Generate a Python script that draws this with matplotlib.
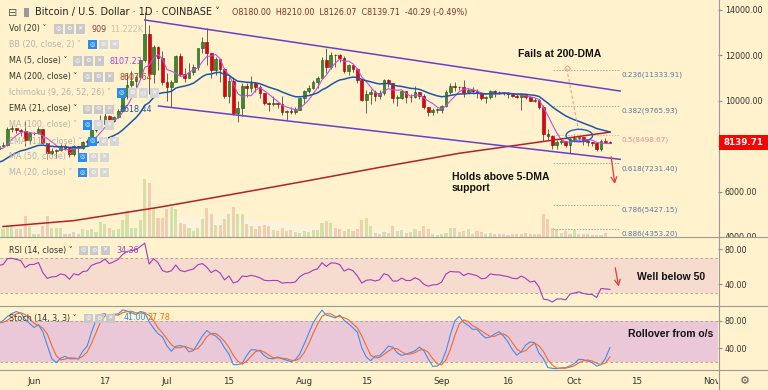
import matplotlib
matplotlib.use('Agg')
import matplotlib.pyplot as plt
import numpy as np
import pandas as pd
from matplotlib.patches import Rectangle, Ellipse
from matplotlib.lines import Line2D
from matplotlib.transforms import Bbox, TransformedBbox

# daily BTC/USD candles, 2019-05-05 .. 2019-10-09 (open = previous close)
first_open = 5830
closes = [5750, 5700, 5880, 5980, 6150, 6350, 7250, 6980, 7810, 7990, 8190, 7880, 7350, 7260, 8200, 7990, 7940, 7620, 7880, 7990, 8060, 8740, 8780, 8720, 8660, 8270, 8550,
          8560, 8740, 8120, 7680, 7790, 7810, 8000, 7930, 7630, 8010, 7920, 8170, 8230, 8690, 8860, 8980, 9330, 9080, 9270, 9530, 10180, 10700, 10860, 11020, 11770, 12930, 11160, 12370, 11880, 10810,
          10580, 10810, 11960, 11150, 10980, 11250, 11470, 12300, 12560, 12100, 11350, 11810, 11370, 10200, 10850, 9430, 9680, 10640, 10530, 10760, 10590, 10330, 9910, 9840, 9880, 9860, 9480, 9530, 9510, 9590, 10090,
          10410, 10530, 10820, 10980, 11800, 11470, 11990, 11980, 11860, 11290, 11550, 11390, 10880, 10030, 10300, 10360, 10220, 10320, 10920, 10760, 10130, 10130, 10400, 10140, 10140, 10370, 10180, 9710, 9490, 9590, 9600,
          9760, 10390, 10620, 10580, 10580, 10320, 10480, 10410, 10330, 10120, 10160, 10420, 10370, 10360, 10310, 10270, 10190, 10160, 10280, 10170, 9990, 10030, 9700, 8530, 8430, 8060, 8190, 8200, 8050, 8300,
          8340, 8390, 8240, 8160, 8150, 7860, 8210, 8180, 8139.71]
highs = [5840, 5770, 6000, 6000, 6180, 6430, 7450, 7580, 8100, 8330, 8290, 8380, 7940, 7490, 8280, 8200, 8100, 8040, 7960, 8180, 8160, 8850, 8930, 8810, 8730, 9080, 8570,
         8620, 8830, 8750, 8130, 7900, 7880, 8110, 8070, 7960, 8060, 8020, 8230, 8320, 8720, 8900, 9380, 9440, 9350, 9310, 9610, 10200, 11200, 11300, 11100, 11800, 13880, 13300, 12450, 12380, 12190,
         11220, 10900, 11990, 12090, 11440, 11650, 11600, 12330, 12800, 13200, 12100, 11900, 11840, 11450, 11080, 11020, 9970, 10760, 10760, 11090, 10830, 10680, 10340, 9920, 10180, 9880, 10200, 9580, 9720, 9720, 10100,
         10460, 10680, 10920, 11080, 11900, 12320, 12120, 12050, 12040, 11950, 11590, 11560, 11440, 10900, 10440, 10520, 10460, 10480, 10960, 10950, 10780, 10240, 10440, 10410, 10270, 10650, 10390, 10300, 9720, 9680, 9680,
         9800, 10450, 10790, 10800, 10650, 10920, 10560, 10600, 10490, 10390, 10210, 10460, 10440, 10420, 10390, 10380, 10280, 10270, 10330, 10290, 10180, 10100, 10060, 9800, 8730, 8470, 8270, 8340, 8220, 8340,
         8520, 8400, 8410, 8240, 8180, 8180, 8320, 8330, 8210]
lows = [5650, 5550, 5700, 5790, 5980, 6130, 6350, 6800, 6900, 7650, 7840, 7650, 6600, 7180, 7260, 7570, 7800, 7500, 7470, 7800, 7950, 8000, 8630, 8560, 8420, 8000, 8100,
        8480, 8540, 8100, 7450, 7580, 7460, 7770, 7830, 7510, 7550, 7710, 7860, 8020, 8190, 8620, 8850, 8970, 8950, 9050, 9220, 9530, 10080, 10600, 10580, 10990, 11700, 10300, 10780, 11330, 10700,
        10000, 9700, 10800, 11080, 10800, 10980, 11100, 11330, 12080, 11580, 11000, 11100, 10830, 10100, 9870, 9370, 9070, 9300, 10150, 10390, 10380, 10090, 9820, 9550, 9740, 9670, 9370, 9160, 9400, 9390, 9580,
        9890, 10340, 10520, 10560, 10980, 11220, 11400, 11470, 11680, 11200, 11140, 11240, 10780, 10000, 9470, 9850, 9990, 10050, 10260, 10600, 9880, 9770, 10060, 9900, 9950, 10130, 10080, 9620, 9330, 9370, 9450,
        9450, 9730, 10290, 10400, 10460, 10150, 10320, 10290, 10110, 10010, 9900, 10050, 10170, 10300, 10260, 10100, 10140, 10100, 9600, 10080, 9960, 9920, 9620, 8200, 8250, 7850, 7880, 8070, 7950, 7710,
        8180, 8210, 8050, 8020, 8000, 7800, 7780, 8120, 8126.07]

# volume (K BTC) for the visible days 2019-05-25 .. 2019-10-09
volumes = [15.0, 21.0, 21.0, 15.0, 15.0, 39.0, 21.0, 7.2, 6.0, 21.0,
           39.0, 16.8, 16.8, 16.8, 6.0, 7.2, 10.8, 6.0, 15.0, 13.2,
           15.0, 10.8, 28.8, 24.0, 18.0, 13.2, 15.0, 31.2, 48.0, 16.8,
           18.0, 31.2, 105.0, 97.8, 52.8, 36.0, 36.0, 51.0, 55.2, 51.0,
           27.0, 24.0, 18.0, 12.0, 18.0, 33.0, 52.8, 42.0, 22.8, 22.8,
           33.0, 42.0, 55.2, 43.2, 42.0, 24.0, 21.0, 15.0, 21.0, 22.8,
           21.0, 13.2, 12.0, 18.0, 12.0, 13.2, 10.8, 9.0, 12.0, 10.8,
           13.2, 13.2, 27.0, 30.0, 27.0, 16.8, 15.0, 12.0, 15.0, 12.0,
           15.0, 31.2, 36.0, 21.0, 9.0, 6.0, 10.8, 9.0, 21.0, 12.0,
           13.2, 9.0, 10.8, 15.0, 12.0, 21.0, 15.0, 6.0, 4.8, 6.0,
           9.0, 18.0, 18.0, 10.8, 12.0, 15.0, 7.2, 12.0, 10.8, 7.2,
           9.0, 6.0, 7.2, 6.0, 4.8, 7.2, 7.2, 6.0, 9.0, 6.0,
           6.0, 6.0, 43.2, 33.0, 18.0, 15.0, 9.0, 12.0, 6.0, 13.2,
           7.2, 7.2, 7.2, 4.8, 4.8, 4.8, 9.0, 0.9]

# 200-day MA
ma200_dates = ['2019-05-25', '2019-06-10', '2019-06-29', '2019-07-15', '2019-08-02',
               '2019-08-18', '2019-09-05', '2019-09-20', '2019-10-09']
ma200_vals = [4460, 4720, 5300, 5850, 6480, 7060, 7680, 8090, 8610]

fib_ratios = ['0.236', '0.382', '0.5', '0.618', '0.786', '0.886']
fib_prices = [11333.91, 9765.93, 8498.67, 7231.40, 5427.15, 4353.20]

price_ticks = [4000, 6000, 8000, 10000, 12000, 14000]
xtick_dates = ['2019-06-01', '2019-06-17', '2019-07-01', '2019-07-15', '2019-08-01', '2019-08-15',
               '2019-09-01', '2019-09-16', '2019-10-01', '2019-10-15', '2019-11-01']
xtick_labels = ['Jun', '17', 'Jul', '15', 'Aug', '15', 'Sep', '16', 'Oct', '15', 'Nov']

plt.rcParams['font.family'] = ['DejaVu Sans']

W, H = 768, 390
BG = '#fff2cc'
GREEN, GREEN_E = '#3c8a2c', '#1f4f14'
RED, RED_E = '#e3000f', '#8b0000'


def fx(x):
    return x / W


def fy(y):
    return 1 - y / H


dates = pd.date_range('2019-05-05', periods=len(closes), freq='D')
t0 = dates[0]


def day(d):
    return (pd.Timestamp(d) - t0).days


n = len(closes)
x = np.arange(n)
c = pd.Series(closes, dtype=float)
h = pd.Series(highs, dtype=float)
l = pd.Series(lows, dtype=float)
o = pd.Series([first_open] + closes[:-1], dtype=float)
vis0 = day('2019-05-25')

# indicators
ma5 = c.rolling(5).mean()
ema21 = c.ewm(span=21, adjust=False).mean()
delta = c.diff()
up = delta.clip(lower=0).ewm(alpha=1 / 14, adjust=False).mean()
dn = (-delta.clip(upper=0)).ewm(alpha=1 / 14, adjust=False).mean()
rsi = 100 - 100 / (1 + up / dn)
k_raw = 100 * (c - l.rolling(14).min()) / (h.rolling(14).max() - l.rolling(14).min())
stoch_k = k_raw.rolling(3).mean()
stoch_d = stoch_k.rolling(3).mean()

fig = plt.figure(figsize=(W / 100, H / 100), dpi=100)
fig.patch.set_facecolor(BG)

xlim = (day('2019-06-01') - 34 / 4.43, day('2019-06-01') + 684 / 4.43)
main_rect = [0, fy(237.5), 718 / W, 237.5 / H]

# volume underneath the price panel
axv = fig.add_axes(main_rect, zorder=0)
axv.set_facecolor('none')
vx = x[vis0:]
vol = pd.Series(volumes)
axv.fill_between(vx, 0, vol.rolling(20, min_periods=1).mean(), color='#fbf3dc', lw=0)
vcol = ['#d3e0a8' if cc >= oo else '#f3cdb0' for cc, oo in zip(c[vis0:], o[vis0:])]
axv.bar(vx, volumes, width=0.7, color=vcol, lw=0)
axv.set_ylim(0, max(volumes) / 0.245)
axv.set_xlim(*xlim)
axv.axis('off')

ax = fig.add_axes(main_rect, zorder=1, sharex=axv)
ax.set_facecolor('none')
up_m = c >= o
ax.vlines(x, l, h, color='#4a4a4a', lw=0.6, zorder=2)
ax.bar(x[up_m], (c - o)[up_m].clip(lower=15), bottom=o[up_m], width=0.62,
       color=GREEN, edgecolor=GREEN_E, lw=0.4, zorder=3)
ax.bar(x[~up_m], (o - c)[~up_m].clip(lower=15), bottom=c[~up_m], width=0.62,
       color=RED, edgecolor=RED_E, lw=0.4, zorder=3)
ax.plot(x, ma5, color='#c04ee6', lw=0.8, zorder=4)
ax.plot(x, ema21, color='#1c55ad', lw=1.1, zorder=4)
ax.plot([day(d) for d in ma200_dates], ma200_vals, color='#b3202a', lw=1.1, zorder=4)

# channel
ax.plot([day('2019-06-26'), 159.3], [13540, 10417], color='#6a3fc8', lw=1.1, zorder=5)
ax.plot([55.1, 159.3], [9758, 7415], color='#6a3fc8', lw=1.1, zorder=5)

# fibonacci retracement
for r, p in zip(fib_ratios, fib_prices):
    col = '#f08a96' if r == '0.5' else '#5a77a8'
    lcol = '#f3a9a9' if r == '0.5' else '#a8a8a8'
    ax.plot([144.2, 159.3], [p, p], color=lcol, lw=0.7, ls=(0, (1.5, 1.5)), zorder=2)
    ax.annotate(f'{r}({p:.2f})', (159.7, p), xytext=(0, -3.5), textcoords='offset points',
                fontsize=5.2, color=col, va='center', ha='left', zorder=6, annotation_clip=False)
ax.plot([147.25, 149.9], [11415, 8703], color='#f4a08e', lw=0.8, ls=(0, (3, 2)), zorder=5)
ax.plot([147.25], [11415], marker='D', ms=3, mfc='none', mec='#f4a08e', mew=0.7, zorder=5)
ax.add_patch(Ellipse((150.1, 8461), 6.0, 545, fill=False, ec='#1f5fbf', lw=1.0, zorder=6))
ax.annotate('', xy=(158.2, 6211), xytext=(157.2, 7648),
            arrowprops=dict(arrowstyle='->', color='#e53935', lw=0.9), zorder=6)

ax.set_xlim(*xlim)
ax.set_ylim(3978, 14418)
ax.yaxis.tick_right()
ax.set_yticks(price_ticks)
# the 8000 label sits under the last-price tag
ax.set_yticklabels(['' if v == 8000 else f'{v:.2f}' for v in price_ticks])
ax.tick_params(axis='y', length=3, pad=2, labelsize=5.8, color='#8a8a8a', labelcolor='#333333')
ax.tick_params(axis='x', length=0, labelbottom=False)
clip_main = TransformedBbox(Bbox([[0, fy(237.5)], [1, 1]]), fig.transFigure)
for t in ax.yaxis.get_major_ticks():
    t.label2.set_clip_box(clip_main)
    t.label2.set_clip_on(True)
for s in ax.spines.values():
    s.set_visible(False)

# RSI panel
ax_r = fig.add_axes([0, fy(305.5), 718 / W, (305.5 - 238) / H], sharex=axv)
ax_r.set_facecolor('none')
ax_r.axhspan(30, 70, color='#f6dbcf', lw=0)
for lv in (30, 70):
    ax_r.axhline(lv, color='#a89c90', lw=0.6, ls=(0, (3, 3)))
ax_r.plot(x, rsi, color='#a23bbf', lw=0.8)
ax_r.annotate('', xy=(159.1, 34.3), xytext=(158.1, 62),
              arrowprops=dict(arrowstyle='->', color='#e53935', lw=0.9), annotation_clip=False)
ax_r.set_ylim(15.8, 92.9)

# Stoch panel
ax_s = fig.add_axes([0, fy(370), 718 / W, (370 - 306) / H], sharex=axv)
ax_s.set_facecolor('none')
ax_s.axhspan(20, 80, color='#ebc8d7', lw=0)
for lv in (20, 80):
    ax_s.axhline(lv, color='#a89c90', lw=0.6, ls=(0, (3, 3)))
ax_s.plot(x, stoch_k, color='#3d8ef0', lw=0.8)
ax_s.plot(x, stoch_d, color='#f26a2e', lw=0.8)
ax_s.set_ylim(8.55, 101.3)

for a in (ax_r, ax_s):
    a.yaxis.tick_right()
    a.set_yticks([40, 80])
    a.set_yticklabels(['40.00', '80.00'])
    a.tick_params(axis='y', length=3, pad=2, labelsize=5.8, color='#8a8a8a', labelcolor='#333333')
    for s in a.spines.values():
        s.set_visible(False)
ax_r.tick_params(axis='x', length=0, labelbottom=False)
ax_s.set_xticks([day(d) for d in xtick_dates])
ax_s.set_xticklabels(xtick_labels)
ax_s.tick_params(axis='x', length=0, pad=5, labelsize=6.3, labelcolor='#333333')
clip_x = TransformedBbox(Bbox([[0, 0], [718 / W, 1]]), fig.transFigure)
for t in ax_s.xaxis.get_major_ticks():
    t.label1.set_clip_box(clip_x)
    t.label1.set_clip_on(True)
ax_s.set_xlim(*xlim)

# separators
for yy in (237.5, 305.5, 370):
    fig.add_artist(Line2D([0, 1], [fy(yy), fy(yy)], transform=fig.transFigure, color='#9a9a9a', lw=0.8))
fig.add_artist(Line2D([fx(718.5), fx(718.5)], [0, 1], transform=fig.transFigure, color='#9a9a9a', lw=0.8))

# last price tag
fig.add_artist(Rectangle((fx(718.5), fy(150)), 49.5 / W, 15.5 / H, transform=fig.transFigure,
                         facecolor='#ff0000', edgecolor='none', zorder=10))
fig.text(fx(724), fy(142.3), '8139.71', color='white', fontsize=6.3, fontweight='bold',
         va='center', ha='left', zorder=11)
fig.text(fx(745), fy(381), '⚙', color='#555555', fontsize=8, ha='center', va='center')

# header
fig.text(fx(13), fy(12.5), '⊟', color='#555555', fontsize=8, ha='center', va='center', zorder=11)
fig.add_artist(Rectangle((fx(24), fy(17)), 5 / W, 9 / H, transform=fig.transFigure,
                         facecolor='#9a9a9a', edgecolor='none', zorder=10))
fig.text(fx(35), fy(12.5), 'Bitcoin / U.S. Dollar · 1D · COINBASE ˅', color='#222222',
         fontsize=7.0, va='center', ha='left', zorder=11)
fig.text(fx(232), fy(13), 'O8180.00  H8210.00  L8126.07  C8139.71  -40.29 (-0.49%)',
         color='#7d3328', fontsize=5.8, va='center', ha='left', zorder=11)


def icon(xp, yp, color, glyph):
    fig.add_artist(Rectangle((fx(xp - 4.5), fy(yp + 4.5)), 9 / W, 9 / H, transform=fig.transFigure,
                             facecolor=color, edgecolor='none', zorder=10))
    fig.text(fx(xp), fy(yp), glyph, color='white', fontsize=4.5, ha='center', va='center', zorder=11)


def legend_row(yp, label, icons, hidden=False, values=()):
    tc = '#b4b4b4' if hidden else '#333333'
    fig.text(fx(9), fy(yp), label + ' ˅', color=tc, fontsize=5.8, va='center', ha='left', zorder=11)
    glyphs = ['◎', '⚙', '{}', '✕'] if len(icons) == 4 else ['◎', '⚙', '✕']
    for k, xp in enumerate(icons):
        if hidden and k == 0:
            icon(xp, yp, '#2a8cf0', glyphs[k])
        else:
            icon(xp, yp, '#d6d6d6' if hidden else '#c9c9c9', glyphs[k])
    for txt, col, xp in values:
        fig.text(fx(xp), fy(yp), txt, color=col, fontsize=5.8, va='center', ha='left', zorder=11)


legend_row(29, 'Vol (20)', [58, 69, 80], values=[('909', '#8b3a3a', 91), ('11.222K', '#c9c2b0', 110)])
legend_row(44.5, 'BB (20, close, 2)', [92, 103, 114], hidden=True)
legend_row(61, 'MA (5, close)', [77, 88, 99], values=[('8107.23', '#b23ed6', 110)])
legend_row(77, 'MA (200, close)', [87, 98, 109], values=[('8607.64', '#c0392b', 119)])
legend_row(93, 'Ichimoku (9, 26, 52, 26)', [121, 132, 143, 154], hidden=True)
legend_row(109, 'EMA (21, close)', [87, 98, 109], values=[('8618.44', '#1c55ad', 119)])
legend_row(125, 'MA (100, close)', [87, 98, 109], hidden=True)
legend_row(141, 'EMA (110, close)', [92, 103, 114], hidden=True)
legend_row(157, 'MA (50, close)', [82, 93, 104], hidden=True)
legend_row(173, 'MA (20, close)', [82, 93, 104], hidden=True)
legend_row(250, 'RSI (14, close)', [83, 94, 105], values=[('34.36', '#a23bbf', 116)])
legend_row(318, 'Stoch (14, 3, 3)', [88, 99, 110], values=[('41.00', '#2196f3', 124), ('27.78', '#ff6d00', 147)])

# notes
note = dict(fontsize=7.5, fontweight='bold', color='#111111', family=['Liberation Sans', 'DejaVu Sans'],
            va='center', ha='left', zorder=11)
fig.text(fx(518), fy(54), 'Fails at 200-DMA', **note)
fig.text(fx(452), fy(177), 'Holds above 5-DMA', **note)
fig.text(fx(452), fy(188), 'support', **note)
fig.text(fx(637), fy(277), 'Well below 50', **note)
fig.text(fx(628), fy(334), 'Rollover from o/s', **note)

fig.savefig('out.png', dpi=100, facecolor=BG)
